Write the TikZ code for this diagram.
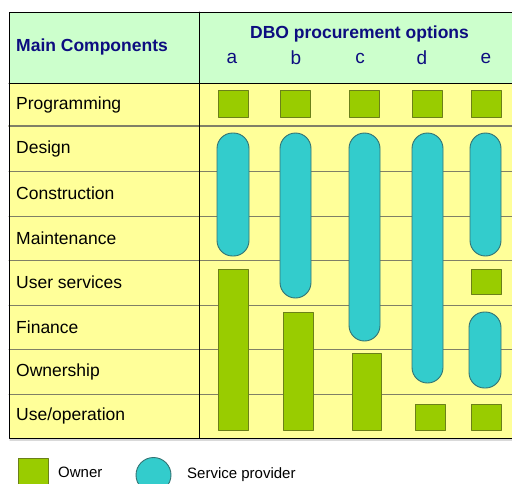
\documentclass[tikz,border=0pt]{standalone}
\usepackage{fontspec}
\setmainfont{Liberation Sans}
\usepackage{tikz}
\definecolor{headgreen}{rgb}{0.8,1,0.8}
\definecolor{rowyellow}{rgb}{1,1,0.6}
\definecolor{ownergreen}{rgb}{0.6,0.8,0}
\definecolor{ownerline}{rgb}{0.42,0.5,0.1}
\definecolor{providerteal}{rgb}{0.2,0.8,0.8}
\definecolor{providerline}{rgb}{0.2,0.45,0.45}
\definecolor{headnavy}{rgb}{0.05,0.05,0.5}
\definecolor{gridgray}{rgb}{0.5,0.5,0.4}

\begin{document}
\begin{tikzpicture}[x=1pt,y=-1pt,line cap=round,line join=round,
  owner/.style={fill=ownergreen,draw=ownerline,line width=0.9pt},
  provider/.style={fill=providerteal,draw=providerline,line width=0.9pt,rounded corners=15.5pt},
  rowlabel/.style={anchor=west,inner sep=0pt,font=\fontsize{17.5}{18}\selectfont},
  headtext/.style={inner sep=0pt,text=headnavy,font=\fontsize{17.5}{18}\selectfont\bfseries},
  optlabel/.style={inner sep=0pt,text=headnavy,font=\fontsize{19}{20}\selectfont},
  keytext/.style={anchor=west,inner sep=0pt,font=\fontsize{15}{16}\selectfont}]
\useasboundingbox (0,0) rectangle (512,483);
\clip (0,0) rectangle (512,483);
% table background
\fill[headgreen] (9,12) rectangle (520,83);
\fill[rowyellow] (9,83) rectangle (520,438);
\foreach \y in {171,216,260,305,349,394}
  \draw[gridgray,line width=1pt] (9,\y) -- (520,\y);
\draw[gridgray,line width=1.6pt] (9,126) -- (520,126);
\draw[line width=1pt] (520,12) -- (9,12) -- (9,438) -- (520,438);
\draw[line width=1pt] (9,83) -- (520,83);
\draw[line width=1pt] (199,12) -- (199,438);
\draw[black!15,line width=1.5pt] (10,440) -- (520,440);
% header
\node[headtext,anchor=west] (maincomp) at (16,47) {Main Components};
\node[headtext] (dbo) at (359.5,34) {DBO procurement options};
\foreach \l/\x in {a/232,b/296,c/360,d/422,e/486}
  \node[optlabel] (opt\l) at (\x,58) {\l};
% row labels
\foreach \t/\y [count=\i] in {Programming/104.5,Design/148.5,Construction/193.5,Maintenance/238,User services/282.5,Finance/327,Ownership/371.5,{Use/operation}/416}
  \node[rowlabel] (row\i) at (16,\y) {\t};
% service provider capsules
\draw[provider] (217,133) rectangle (249,256);
\draw[provider] (280,133) rectangle (311,298);
\draw[provider] (349,133) rectangle (380,341);
\draw[provider] (412,133) rectangle (443,383);
\draw[provider] (470,133) rectangle (501,256);
\draw[provider] (469,312) rectangle (501,388);
% owner boxes
\foreach \x in {218,280,349,412,471}
  \draw[owner] (\x,90) rectangle ++(30,27);
\draw[owner] (218,269) rectangle (248,430);
\draw[owner] (283,312) rectangle (313,430);
\draw[owner] (352,353) rectangle (381,430);
\draw[owner] (415,404) rectangle (445,430);
\draw[owner] (471,404) rectangle (501,430);
\draw[owner] (471,269) rectangle (501,294);
% key
\draw[owner] (18,458) rectangle (48,492);
\node[keytext] (ownerkey) at (58,472) {Owner};
\draw[fill=providerteal,draw=providerline,line width=0.9pt] (153.5,475) circle (17.5);
\node[keytext] (providerkey) at (187,475) {Service provider};
\end{tikzpicture}
\end{document}
